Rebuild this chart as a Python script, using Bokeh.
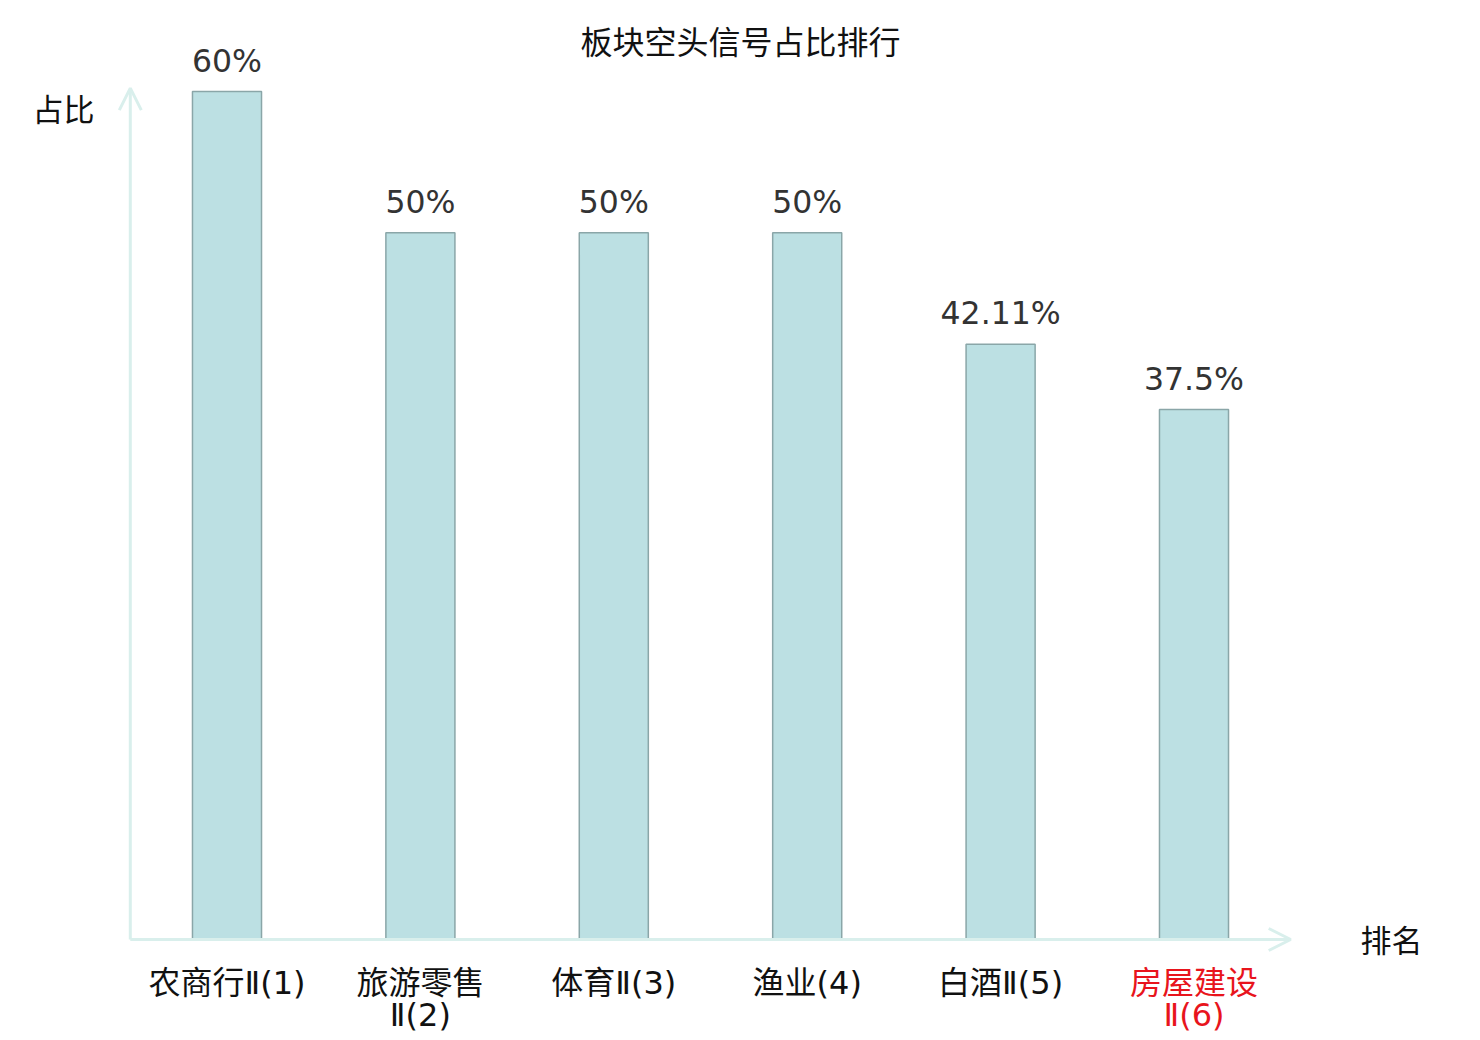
from bokeh.plotting import figure
from bokeh.models import ColumnDataSource, Range1d, Label, Arrow, OpenHead
from bokeh.core.properties import value
from bokeh.embed import file_html
from bokeh.resources import INLINE

# ---- data ----
categories = ["农商行Ⅱ(1)", "旅游零售Ⅱ(2)", "体育Ⅱ(3)", "渔业(4)", "白酒Ⅱ(5)", "房屋建设Ⅱ(6)"]
tick_labels = ["农商行Ⅱ(1)", "旅游零售\nⅡ(2)", "体育Ⅱ(3)", "渔业(4)", "白酒Ⅱ(5)", "房屋建设\nⅡ(6)"]
shares = [60, 50, 50, 50, 42.11, 37.5]
highlight = "房屋建设Ⅱ(6)"
title_text = "板块空头信号占比排行"
y_label = "占比"
x_label = "排名"

# ---- styling / layout ----
W, H = 1480, 1040
CJK = "Noto Sans CJK SC"
MIXED = "DejaVu Sans, Noto Sans CJK SC"
NUM = "DejaVu Sans"
AXIS_COLOR = "#d9efec"
BAR_FILL = "#bce0e3"
BAR_LINE = "#8aa6a8"

n = len(categories)
xs = list(range(n))
value_text = [f"{v:g}%" for v in shares]
label_colors = ["#e8141c" if c == highlight else "#111111" for c in categories]

src = ColumnDataSource(dict(x=xs, top=shares, vt=value_text,
                            lt=tick_labels, lc=label_colors,
                            zero=[0] * n))

p = figure(width=W, height=H, output_backend="svg", toolbar_location=None,
           x_range=Range1d(-1.17115, 6.48138), y_range=Range1d(-7.1462, 66.4388),
           min_border=0, outline_line_color=None, background_fill_color="white",
           border_fill_color="white")
p.axis.visible = False
p.grid.visible = False

p.vbar(x="x", top="top", bottom=0, width=0.357, source=src,
       fill_color=BAR_FILL, line_color=BAR_LINE, line_width=1.5)

# axes with arrow heads
p.add_layout(Arrow(end=OpenHead(size=22, line_color=AXIS_COLOR, line_width=3),
                   x_start=-0.5, y_start=0, x_end=-0.5, y_end=max(shares) * 1.004,
                   line_color=AXIS_COLOR, line_width=3))
p.add_layout(Arrow(end=OpenHead(size=22, line_color=AXIS_COLOR, line_width=3),
                   x_start=-0.5, y_start=0, x_end=n - 0.5, y_end=0,
                   line_color=AXIS_COLOR, line_width=3))

# value labels
p.text(x="x", y="top", text="vt", source=src, text_font=value(NUM),
       text_font_size="31.5px", text_color="#333333", text_align="center",
       text_baseline="alphabetic", y_offset=-31)

# category labels
p.text(x="x", y="zero", text="lt", source=src, text_font=value(MIXED),
       text_font_size="32px", text_color="lc", text_align="center",
       text_baseline="top", y_offset=24, text_line_height=0.86)

p.add_layout(Label(x=740, y=1001, x_units="screen", y_units="screen", text=title_text,
                   text_font=CJK, text_font_size="32px", text_color="#111111",
                   text_align="center", text_baseline="middle"))
p.add_layout(Label(x=63, y=933, x_units="screen", y_units="screen", text=y_label,
                   text_font=CJK, text_font_size="31px", text_color="#111111",
                   text_align="center", text_baseline="middle"))
p.add_layout(Label(x=1391, y=102, x_units="screen", y_units="screen", text=x_label,
                   text_font=CJK, text_font_size="31px", text_color="#111111",
                   text_align="center", text_baseline="middle"))

open("out.html", "w").write(file_html(p, INLINE))
